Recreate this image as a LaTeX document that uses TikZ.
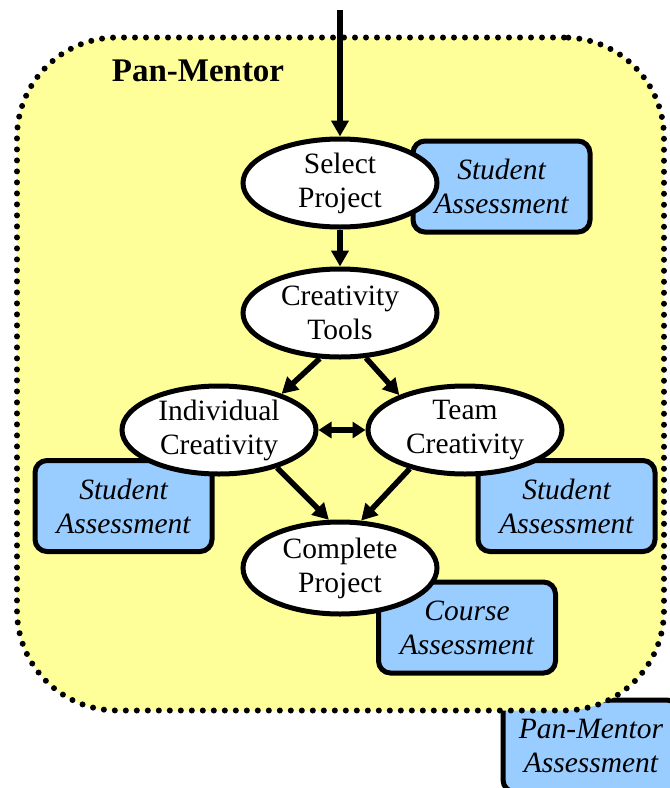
\documentclass[tikz,border=0pt]{standalone}
\usepackage{fontspec}
\setmainfont{Liberation Serif}
\usetikzlibrary{shapes.geometric,arrows.meta}
\definecolor{panyellow}{HTML}{FFFF99}
\definecolor{assessblue}{HTML}{99CCFF}
\begin{document}
\begin{tikzpicture}[x=1pt,y=-1pt,
  region/.style={draw,fill=panyellow,line width=6pt,dash pattern=on 0pt off 11pt,line cap=round,rounded corners=100pt,inner sep=0pt},
  stage/.style={ellipse,draw,line width=5pt,fill=white,minimum width=194pt,minimum height=88pt,inner sep=0pt,align=center,font=\fontsize{29.5}{34}\selectfont},
  assess/.style={draw,line width=5pt,rounded corners=12pt,fill=assessblue,minimum width=177pt,minimum height=91pt,inner sep=0pt,align=center,font=\fontsize{29.5}{34}\selectfont\itshape},
  arr/.style={line width=5.5pt,-{Triangle[length=16pt,width=17pt]}},
  darr/.style={line width=5.5pt,{Triangle[length=13pt,width=16pt]}-{Triangle[length=13pt,width=16pt]}},
  title/.style={font=\fontsize{33}{37}\selectfont\bfseries,inner sep=0pt}
]
\clip (0,0) rectangle (670,788);
\node[assess,minimum width=176pt,minimum height=92pt] (pma) at (591,746) {Pan-Mentor\\Assessment};
\node[region,minimum width=647pt,minimum height=673pt] (pm) at (340.5,374) {};
\node[title] (pmt) at (198,71) {Pan-Mentor};
\node[assess] (sa1) at (501.5,186.5) {Student\\Assessment};
\node[assess] (sa2) at (123.5,506) {Student\\Assessment};
\node[assess] (sa3) at (566.5,506) {Student\\Assessment};
\node[assess] (ca) at (467,627.5) {Course\\Assessment};
\node[stage] (select) at (340,183) {Select\\Project};
\node[stage] (tools) at (340,313) {Creativity\\Tools};
\node[stage] (indiv) at (219,430) {Individual\\Creativity};
\node[stage] (team) at (465,430) {Team\\Creativity};
\node[stage,minimum height=92pt] (complete) at (340,568) {Complete\\Project};
\coordinate (in) at (340,10);
\draw[arr] (in) -- (select.north);
\draw[arr] (select.south) -- (tools.north);
\draw[arr] (tools.246) -- (indiv.30);
\draw[arr] (tools.300) -- (team.152);
\draw[arr] (indiv.327) -- (complete.103);
\draw[arr] (team.215) -- (complete.66);
\draw[darr] (indiv.east) -- (team.west);
\end{tikzpicture}
\end{document}
